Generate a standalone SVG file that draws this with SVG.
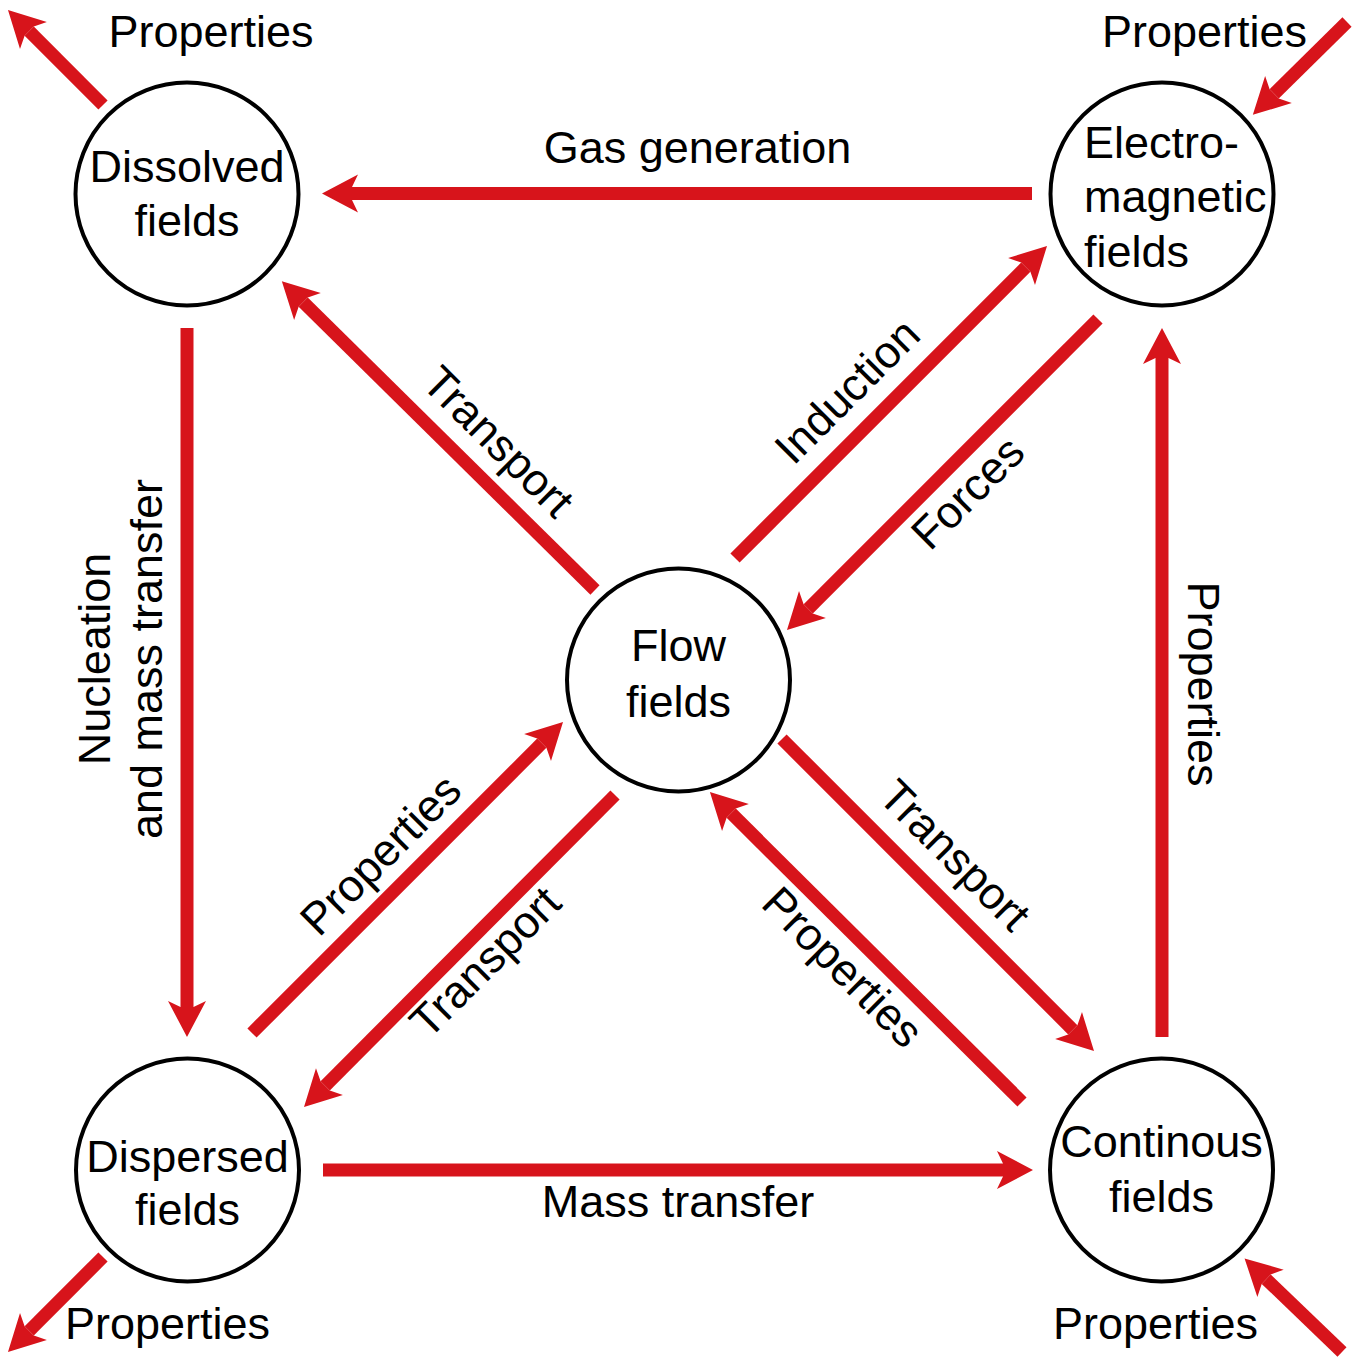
<svg xmlns="http://www.w3.org/2000/svg" width="1362" height="1358" viewBox="0 0 1362 1358">
  <style>
    text { font-family: "Liberation Sans", Arial, sans-serif; font-size: 45px; fill: #000; }
    .mid { text-anchor: middle; }
    .node circle { fill: #fff; stroke: #000; stroke-width: 4; }
    .link { stroke: #d7141b; stroke-width: 13; fill: none; marker-end: url(#head); }
  </style>
  <defs>
    <marker id="head" markerUnits="userSpaceOnUse" viewBox="-8 -21 40 42" refX="0" refY="0" markerWidth="40" markerHeight="42" orient="auto">
      <path d="M30,0 L-6,-19 L0,-6.5 L0,6.5 L-6,19 Z" fill="#d7141b"/>
    </marker>
  </defs>
  <rect width="1362" height="1358" fill="#fff"/>

  <!-- connectors -->
  <g id="connectors">
    <line class="link" x1="1032" y1="193.5" x2="352" y2="193.5"/>
    <line class="link" x1="187" y1="328" x2="187" y2="1007"/>
    <line class="link" x1="323" y1="1170" x2="1003" y2="1170"/>
    <line class="link" x1="1162" y1="1037" x2="1162" y2="358"/>
    <line class="link" x1="595" y1="590" x2="303.2" y2="302.2"/>
    <line class="link" x1="735" y1="558" x2="1025.8" y2="267.2"/>
    <line class="link" x1="1098" y1="319" x2="808.2" y2="608.8"/>
    <line class="link" x1="252" y1="1033" x2="541.8" y2="743.2"/>
    <line class="link" x1="615" y1="795" x2="325.2" y2="1085.8"/>
    <line class="link" x1="782" y1="739" x2="1072.8" y2="1029.8"/>
    <line class="link" x1="1022" y1="1102" x2="731.2" y2="813.2"/>
    <line class="link" x1="103" y1="105" x2="29.2" y2="31.2"/>
    <line class="link" x1="1347" y1="22" x2="1274.2" y2="93.8"/>
    <line class="link" x1="103" y1="1257" x2="29.2" y2="1330.8"/>
    <line class="link" x1="1342" y1="1352" x2="1266.2" y2="1279.2"/>
  </g>

  <!-- connector labels -->
  <g id="labels">
    <text class="mid" x="697.5" y="163">Gas generation</text>
    <text class="mid" x="678" y="1217">Mass transfer</text>
    <text class="mid" transform="translate(110,659) rotate(-90)">Nucleation</text>
    <text class="mid" transform="translate(162,659) rotate(-90)">and mass transfer</text>
    <text class="mid" transform="translate(1188,684) rotate(90)">Properties</text>
    <text class="mid" transform="translate(487.5,452.5) rotate(45)">Transport</text>
    <text class="mid" transform="translate(858,402) rotate(-45)">Induction</text>
    <text class="mid" transform="translate(978.5,503.5) rotate(-45)">Forces</text>
    <text class="mid" transform="translate(391.5,865.5) rotate(-45)">Properties</text>
    <text class="mid" transform="translate(496,973) rotate(-45)">Transport</text>
    <text class="mid" transform="translate(944,866) rotate(45)">Transport</text>
    <text class="mid" transform="translate(832,978) rotate(45)">Properties</text>
    <text class="mid" x="211" y="47">Properties</text>
    <text class="mid" x="1204.5" y="47">Properties</text>
    <text class="mid" x="167.5" y="1339">Properties</text>
    <text class="mid" x="1155.5" y="1339">Properties</text>
  </g>

  <!-- nodes -->
  <g id="dissolved" class="node">
    <circle cx="187" cy="194" r="111.5"/>
    <text class="mid" x="187" y="182">Dissolved</text>
    <text class="mid" x="187" y="236">fields</text>
  </g>
  <g id="electromagnetic" class="node">
    <circle cx="1162" cy="194" r="111.5"/>
    <text x="1084" y="158">Electro-</text>
    <text x="1084" y="212">magnetic</text>
    <text x="1084" y="267">fields</text>
  </g>
  <g id="flow" class="node">
    <circle cx="678.5" cy="680" r="111.5"/>
    <text class="mid" x="678.5" y="661">Flow</text>
    <text class="mid" x="678.5" y="717">fields</text>
  </g>
  <g id="dispersed" class="node">
    <circle cx="187.5" cy="1170" r="111.5"/>
    <text class="mid" x="187.5" y="1172">Dispersed</text>
    <text class="mid" x="187.5" y="1225">fields</text>
  </g>
  <g id="continuous" class="node">
    <circle cx="1161.5" cy="1170" r="111.5"/>
    <text class="mid" x="1161.5" y="1157">Continous</text>
    <text class="mid" x="1161.5" y="1212">fields</text>
  </g>
</svg>
